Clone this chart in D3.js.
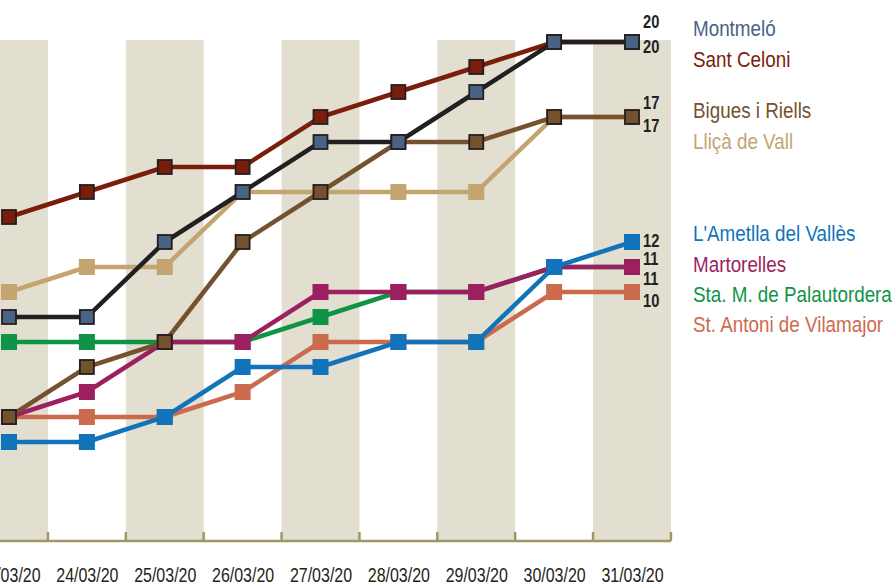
<!DOCTYPE html>
<html lang="ca">
  <head>
    <meta charset="UTF-8" />
    <title>Casos per municipi</title>
    <style>
      body { margin: 0; background: #fff; }
      svg text { font-family: "Liberation Sans", Arial, sans-serif; }
    </style>
  </head>
  <body>
    <div id="chart"></div>

    <script src="https://d3js.org/d3.v7.min.js"></script>
    <script>
      // dates shown on the x axis
      const dates = ["23/03/20", "24/03/20", "25/03/20", "26/03/20", "27/03/20",
                     "28/03/20", "29/03/20", "30/03/20", "31/03/20"];

      // one array per municipality
      const montmelo    = [9, 9, 12, 14, 16, 16, 18, 20, 20];
      const santCeloni  = [13, 14, 15, 15, 17, 18, 19, 20, 20];
      const bigues      = [5, 7, 8, 12, 14, 16, 16, 17, 17];
      const llica       = [10, 11, 11, 14, 14, 14, 14, 17, 17];
      const ametlla     = [4, 4, 5, 7, 7, 8, 8, 11, 12];
      const martorelles = [5, 6, 8, 8, 10, 10, 10, 11, 11];
      const palautordera = [8, 8, 8, 8, 9, 10, 10, 11, 11];
      const santAntoni  = [5, 5, 5, 6, 8, 8, 8, 10, 10];

      const names = ["St. Antoni de Vilamajor", "Sta. M. de Palautordera", "Martorelles",
                     "L'Ametlla del Vallès", "Lliçà de Vall", "Bigues i Riells",
                     "Sant Celoni", "Montmeló"];
      const values = [santAntoni, palautordera, martorelles, ametlla, llica, bigues, santCeloni, montmelo];

      // styling, same order as names (bottom drawn first)
      const colors = ["#cc6a4e", "#0f9447", "#9c1f5f", "#1273ba", "#c4a572", "#74512f", "#7a1e0b", "#4a6283"];
      const lineColors = ["#cc6a4e", "#0f9447", "#9c1f5f", "#1273ba", "#c4a572", "#74512f", "#7a1e0b", "#231f20"];
      const outlined = [false, false, false, false, false, true, true, true];

      // legend order and placement (top to bottom)
      const legendOrder = ["Montmeló", "Sant Celoni", "Bigues i Riells", "Lliçà de Vall",
                           "L'Ametlla del Vallès", "Martorelles", "Sta. M. de Palautordera", "St. Antoni de Vilamajor"];
      const legendY = [36, 67, 118, 149, 241, 272, 302, 332];

      // end labels: value shifted up/down so they don't overlap
      const endLabelDy = { "Montmeló": 5, "Sant Celoni": -20, "Bigues i Riells": -14, "Lliçà de Vall": 9,
                           "L'Ametlla del Vallès": -1, "Martorelles": -8, "Sta. M. de Palautordera": 12, "St. Antoni de Vilamajor": 9 };

      const w = 896, h = 587;
      const svg = d3.select("#chart").append("svg").attr("width", w).attr("height", h);

      const x = d3.scalePoint().domain(dates).range([9, 632]);
      const step = x.step();
      const y = d3.scaleLinear().domain([0, 20]).range([542, 42]);
      const axisY = 541;

      // alternating shaded columns
      svg.append("g").selectAll("rect")
        .data(dates.filter((d, i) => i % 2 === 0))
        .enter().append("rect")
        .attr("x", d => x(d) - step / 2)
        .attr("y", y(20) - 2)
        .attr("width", step)
        .attr("height", axisY - y(20) + 2)
        .attr("fill", "#e2dfd0");

      // x axis: labels from d3 axis (narrowed), ticks at column edges
      const xAxis = svg.append("g")
        .attr("transform", `translate(0, ${axisY})`)
        .call(d3.axisBottom(x).tickSize(0).tickPadding(27));
      xAxis.select(".domain").remove();
      xAxis.selectAll("text")
        .attr("font-size", 19.5)
        .attr("fill", "#231f20")
        .attr("transform", "scale(0.82,1)")
        .style("font-family", "'Liberation Sans', Arial, sans-serif");

      svg.append("line")
        .attr("x1", 0).attr("x2", x(dates[dates.length - 1]) + step / 2)
        .attr("y1", axisY).attr("y2", axisY)
        .attr("stroke", "#9e9866").attr("stroke-width", 2.5);
      svg.append("g").selectAll("line")
        .data(dates)
        .enter().append("line")
        .attr("x1", d => x(d) + step / 2).attr("x2", d => x(d) + step / 2)
        .attr("y1", axisY).attr("y2", axisY - 9)
        .attr("stroke", "#9e9866").attr("stroke-width", 2.5);

      // series
      const line = d3.line().x((d, i) => x(dates[i])).y(d => y(d));
      names.forEach((name, k) => {
        const g = svg.append("g");
        g.append("path")
          .datum(values[k])
          .attr("d", line)
          .attr("fill", "none")
          .attr("stroke", lineColors[k])
          .attr("stroke-width", 4.5);
        const s = outlined[k] ? 14 : 16;
        g.selectAll("rect")
          .data(values[k])
          .enter().append("rect")
          .attr("x", (d, i) => x(dates[i]) - s / 2)
          .attr("y", d => y(d) - s / 2)
          .attr("width", s).attr("height", s)
          .attr("fill", colors[k])
          .attr("stroke", outlined[k] ? "#231f20" : "none")
          .attr("stroke-width", outlined[k] ? 1.8 : 0);
      });

      // end value labels
      const last = dates.length - 1;
      svg.append("g").selectAll("g")
        .data(names)
        .enter().append("g")
        .attr("transform", (d, k) => `translate(${x(dates[last]) + 11}, ${y(values[k][last]) + endLabelDy[d]})`)
        .append("text")
        .attr("dy", "0.36em")
        .attr("transform", "scale(0.84,1)")
        .attr("font-size", 17.5)
        .attr("font-weight", "bold")
        .attr("fill", "#231f20")
        .text((d, k) => values[k][last]);

      // legend
      svg.append("g").selectAll("g")
        .data(legendOrder)
        .enter().append("g")
        .attr("transform", (d, i) => `translate(693, ${legendY[i]})`)
        .append("text")
        .attr("transform", "scale(0.876,1)")
        .attr("font-size", 21.5)
        .attr("fill", d => colors[names.indexOf(d)])
        .text(d => d);
    </script>
  </body>
</html>
